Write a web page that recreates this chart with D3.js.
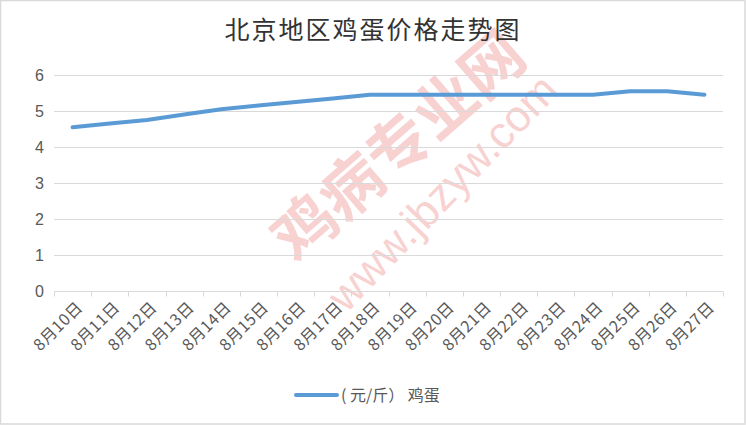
<!DOCTYPE html>
<html>
<head>
<meta charset="utf-8">
<script src="https://cdn.jsdelivr.net/npm/d3@7"></script>
<style>
  body { margin: 0; background: #fff; }
  svg { display: block; font-family: "Noto Sans CJK SC", "Liberation Sans", sans-serif; }
</style>
</head>
<body>
<svg width="746" height="425"></svg>
<script>
// data
const dates = ["8月10日","8月11日","8月12日","8月13日","8月14日","8月15日","8月16日","8月17日","8月18日",
               "8月19日","8月20日","8月21日","8月22日","8月23日","8月24日","8月25日","8月26日","8月27日"];
const prices = [4.55, 4.65, 4.75, 4.9, 5.05, 5.15, 5.25, 5.35, 5.45,
                5.45, 5.45, 5.45, 5.45, 5.45, 5.45, 5.55, 5.55, 5.45];
const yTicks = [0, 1, 2, 3, 4, 5, 6];
const seriesName = "( 元/斤） 鸡蛋";

const svg = d3.select("svg"),
    width = +svg.attr("width"),
    height = +svg.attr("height");

const margin = {left: 54, right: 23, top: 75, bottom: 134};

const x = d3.scaleBand()
    .domain(dates)
    .range([margin.left, width - margin.right]);

const y = d3.scaleLinear()
    .domain([0, 6])
    .range([height - margin.bottom, margin.top]);

// outer border
svg.append("rect")
    .attr("x", 0.5).attr("y", 0.5)
    .attr("width", width - 1.5).attr("height", height - 1.5)
    .attr("fill", "#fff")
    .attr("stroke", "#d9d9d9")
    .attr("stroke-width", 1.5);

// watermark
const wm = svg.append("g").attr("opacity", 0.2).attr("fill", "#e02020");
wm.append("text")
    .attr("transform", "translate(402,150) rotate(-41)")
    .attr("text-anchor", "middle")
    .attr("dominant-baseline", "middle")
    .style("font-size", "62px")
    .style("font-weight", "bold")
    .text("鸡病专业网");
wm.append("text")
    .attr("transform", "translate(445,195) rotate(-46)")
    .attr("text-anchor", "middle")
    .attr("dominant-baseline", "middle")
    .style("font-family", "Liberation Sans, sans-serif")
    .style("font-size", "44px")
    .text("www.jbzyw.com");

// gridlines
svg.append("g")
    .selectAll("line")
    .data(yTicks.filter(d => d > 0))
    .join("line")
      .attr("x1", margin.left)
      .attr("x2", width - margin.right)
      .attr("y1", d => Math.round(y(d)) + 0.5)
      .attr("y2", d => Math.round(y(d)) + 0.5)
      .attr("stroke", "#d9d9d9");

// y labels
svg.append("g")
    .selectAll("text")
    .data(yTicks)
    .join("text")
      .attr("x", 44)
      .attr("y", d => y(d))
      .attr("dy", "0.35em")
      .attr("text-anchor", "end")
      .attr("fill", "#595959")
      .style("font-size", "16px")
      .style("font-family", "Liberation Sans, sans-serif")
      .text(d => d);

// x axis
const xAxis = svg.append("g")
    .attr("transform", `translate(0,${Math.round(y(0)) + 0.5})`);
xAxis.append("line")
    .attr("x1", margin.left).attr("x2", width - margin.right)
    .attr("stroke", "#d9d9d9");
xAxis.selectAll(".tk")
    .data(dates.map(d => x(d)).concat([x(dates[dates.length - 1]) + x.bandwidth()]))
    .join("line")
      .attr("class", "tk")
      .attr("x1", d => Math.round(d) + 0.5).attr("x2", d => Math.round(d) + 0.5)
      .attr("y1", 0).attr("y2", 5)
      .attr("stroke", "#d9d9d9");
xAxis.selectAll(".lbl")
    .data(dates)
    .join("text")
      .attr("class", "lbl")
      .attr("transform", d => `translate(${x(d) + x.bandwidth() / 2 + 7},${13}) rotate(-45)`)
      .attr("text-anchor", "end")
      .attr("dy", "0.35em")
      .attr("fill", "#595959")
      .style("font-size", "16px")
      .style("letter-spacing", "0.5px")
      .text(d => d);

// line
const line = d3.line()
    .x((d, i) => x(dates[i]) + x.bandwidth() / 2)
    .y(d => y(d));

svg.append("path")
    .datum(prices)
    .attr("d", line)
    .attr("fill", "none")
    .attr("stroke", "#5b9bd5")
    .attr("stroke-width", 4)
    .attr("stroke-linecap", "round")
    .attr("stroke-linejoin", "round");

// title
svg.append("text")
    .attr("x", 373)
    .attr("y", 32)
    .attr("text-anchor", "middle")
    .attr("dominant-baseline", "middle")
    .attr("fill", "#333")
    .style("font-size", "25px")
    .style("letter-spacing", "2px")
    .text("北京地区鸡蛋价格走势图");

// legend
const legend = svg.append("g").attr("transform", "translate(296,395)");
legend.append("line")
    .attr("x1", 0).attr("x2", 41)
    .attr("stroke", "#5b9bd5")
    .attr("stroke-width", 4)
    .attr("stroke-linecap", "round");
legend.append("text")
    .attr("x", 45)
    .attr("dy", "0.35em")
    .attr("fill", "#595959")
    .style("font-size", "16px")
    .text(seriesName);
</script>
</body>
</html>
